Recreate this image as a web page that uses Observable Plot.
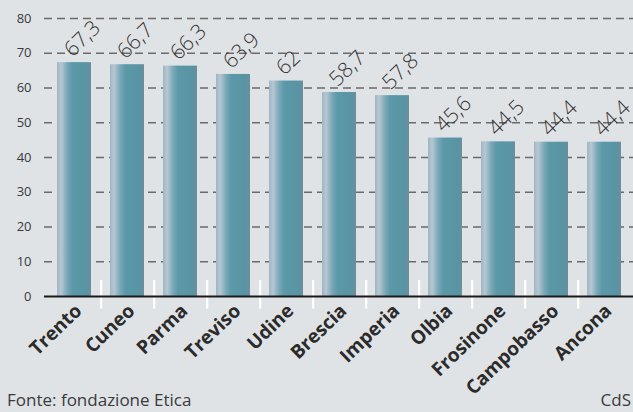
<!DOCTYPE html>
<html>
<head>
<meta charset="utf-8">
<script src="https://cdn.jsdelivr.net/npm/d3@7"></script>
<script src="https://cdn.jsdelivr.net/npm/@observablehq/plot@0.6"></script>
<style>
  html, body { margin: 0; padding: 0; background: #e0e3e6; }
  #wrap { width: 633px; height: 412px; position: relative; overflow: hidden; background: #e0e3e6; font-family: "Open Sans", sans-serif; }
  #foot { position: absolute; left: 0; right: 0; top: 388px; height: 24px; color: #3a3a3a; font-size: 17px; line-height: 23px; }
  #foot .l { position: absolute; left: 7px; top: 0; }
  #foot .r { position: absolute; right: 2px; top: 0; }
</style>
</head>
<body>
<div id="wrap"><div id="chart"></div><div id="foot"><span class="l">Fonte: fondazione Etica</span><span class="r">CdS</span></div></div>
<script>
const cities = ["Trento", "Cuneo", "Parma", "Treviso", "Udine", "Brescia", "Imperia", "Olbia", "Frosinone", "Campobasso", "Ancona"];
const values = [67.3, 66.7, 66.3, 63.9, 62, 58.7, 57.8, 45.6, 44.5, 44.4, 44.4];
const valueLabels = ["67,3", "66,7", "66,3", "63,9", "62", "58,7", "57,8", "45,6", "44,5", "44,4", "44,4"];
const yTicks = [0, 10, 20, 30, 40, 50, 60, 70, 80];

const data = cities.map((c, i) => ({city: c, value: values[i], label: valueLabels[i]}));
const step = 589 / (11 - 0.36 + 0.4);

const chart = Plot.plot({
  width: 633,
  height: 412,
  marginLeft: 44,
  marginRight: 0,
  marginTop: 18,
  marginBottom: 116,
  style: {background: "transparent", fontFamily: "Open Sans, sans-serif", overflow: "visible"},
  x: {domain: cities, paddingInner: 0.36, paddingOuter: 0.2, axis: null},
  y: {domain: [0, 80], axis: null},
  marks: [
    Plot.ruleY(yTicks.filter(d => d > 0), {stroke: "#6a6a6a", strokeWidth: 1.3, strokeDasharray: "8,5"}),
    Plot.text(yTicks, {y: d => d, text: d => String(d), frameAnchor: "left", dx: -13, textAnchor: "end", fill: "#3a3a3a", fontSize: 13}),
    Plot.barY(data, {x: "city", y: "value", fill: "url(#barGrad)"}),
    Plot.ruleX(cities.slice(0, -1), {x: d => d, dx: step / 2, y1: -3.6, y2: 4.6, stroke: "#ffffff", strokeWidth: 2.2}),
    Plot.ruleY([0], {stroke: "#1a1a1a", strokeWidth: 2}),
    Plot.text(data, {x: "city", y: "value", text: "label", rotate: -44, textAnchor: "start", lineAnchor: "bottom", dx: -2, dy: -5, fontSize: 21, fill: "#333", fontWeight: 300}),
    Plot.text(data, {x: "city", y: 0, text: "city", rotate: -44, textAnchor: "end", lineAnchor: "top", dx: -1, dy: 6, fontSize: 19, fontWeight: 700, fill: "#2b2b2b"})
  ]
});

const svg = d3.select(chart);
const defs = svg.insert("defs", ":first-child");
const g = defs.append("linearGradient").attr("id", "barGrad").attr("x1", "0").attr("x2", "1").attr("y1", "0").attr("y2", "0");
[["0%", "#9fb5c3"], ["12%", "#b6c7d2"], ["30%", "#79a8b7"], ["45%", "#5b98a8"], ["85%", "#5894a4"], ["100%", "#6b8f9c"]]
  .forEach(([o, c]) => g.append("stop").attr("offset", o).attr("stop-color", c));

document.getElementById("chart").appendChild(chart);
</script>
</body>
</html>
